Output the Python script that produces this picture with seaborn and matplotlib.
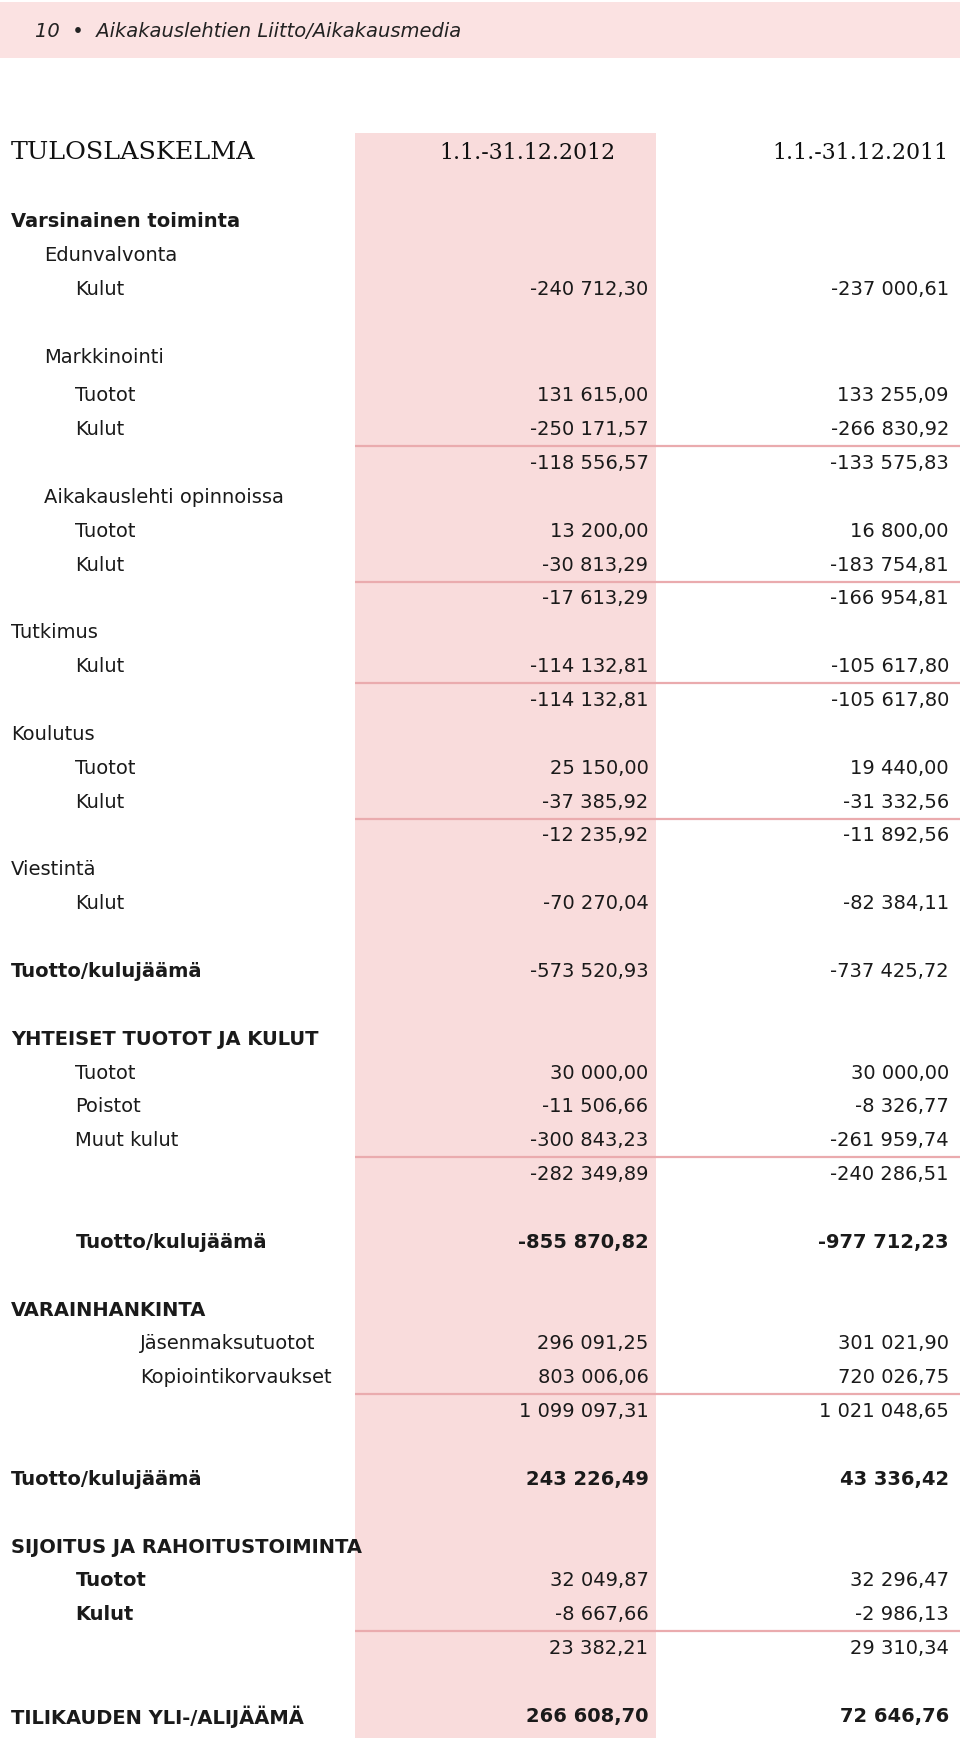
import matplotlib
matplotlib.use("Agg")
import matplotlib.pyplot as plt
import seaborn as sns

# row labels, indent level, and the two year columns
labels = ["Varsinainen toiminta", "Edunvalvonta", "Kulut",
          "Markkinointi", "Tuotot", "Kulut", "",
          "Aikakauslehti opinnoissa", "Tuotot", "Kulut", "",
          "Tutkimus", "Kulut", "",
          "Koulutus", "Tuotot", "Kulut", "",
          "Viestintä", "Kulut",
          "Tuotto/kulujäämä",
          "YHTEISET TUOTOT JA KULUT", "Tuotot", "Poistot", "Muut kulut", "",
          "Tuotto/kulujäämä",
          "VARAINHANKINTA", "Jäsenmaksutuotot", "Kopiointikorvaukset", "",
          "Tuotto/kulujäämä",
          "SIJOITUS JA RAHOITUSTOIMINTA", "Tuotot", "Kulut", "",
          "TILIKAUDEN YLI-/ALIJÄÄMÄ"]
levels = [0, 1, 2,
          1, 2, 2, 2,
          1, 2, 2, 2,
          0, 2, 2,
          0, 2, 2, 2,
          0, 2,
          0,
          0, 2, 2, 2, 2,
          2,
          0, 3, 3, 3,
          0,
          0, 2, 2, 2,
          0]
v2012 = ["", "", "-240 712,30",
         "", "131 615,00", "-250 171,57", "-118 556,57",
         "", "13 200,00", "-30 813,29", "-17 613,29",
         "", "-114 132,81", "-114 132,81",
         "", "25 150,00", "-37 385,92", "-12 235,92",
         "", "-70 270,04",
         "-573 520,93",
         "", "30 000,00", "-11 506,66", "-300 843,23", "-282 349,89",
         "-855 870,82",
         "", "296 091,25", "803 006,06", "1 099 097,31",
         "243 226,49",
         "", "32 049,87", "-8 667,66", "23 382,21",
         "266 608,70"]
v2011 = ["", "", "-237 000,61",
         "", "133 255,09", "-266 830,92", "-133 575,83",
         "", "16 800,00", "-183 754,81", "-166 954,81",
         "", "-105 617,80", "-105 617,80",
         "", "19 440,00", "-31 332,56", "-11 892,56",
         "", "-82 384,11",
         "-737 425,72",
         "", "30 000,00", "-8 326,77", "-261 959,74", "-240 286,51",
         "-977 712,23",
         "", "301 021,90", "720 026,75", "1 021 048,65",
         "43 336,42",
         "", "32 296,47", "-2 986,13", "29 310,34",
         "72 646,76"]

# layout: row slot, label weight, number weight, rule above
slots = [0, 1, 2, 4, 5, 6, 7, 8, 9, 10, 11, 12, 13, 14, 15, 16, 17, 18, 19, 20,
         22, 24, 25, 26, 27, 28, 30, 32, 33, 34, 35, 37, 39, 40, 41, 42, 44]
bold_label = {0, 20, 21, 26, 27, 31, 32, 33, 34, 36}
bold_value = {26, 31, 36}
rule_above = {6, 10, 13, 17, 25, 30, 35}

W, H = 866, 1568
PINK = "#f9dcdc"
RULE = "#eaabae"
indent_x = [10, 40, 68, 126]
col1_x, col2_x = 585, 856

sns.set_theme(style="white")
plt.rcParams["font.family"] = ["DejaVu Sans"]

fig = plt.figure(figsize=(9.6, 17.38), dpi=100)
ax = fig.add_axes([0, 0, 1, 1])
ax.set_xlim(0, W)
ax.set_ylim(H, 0)
ax.axis("off")

# header band and highlighted column
ax.axhspan(2, 52, xmin=0, xmax=1, color="#fbe2e2", lw=0)
ax.axvspan(320, 592, ymin=0, ymax=1 - 120 / H, color=PINK, lw=0)

ax.text(32, 28, "10  •  Aikakauslehtien Liitto/Aikakausmedia", fontsize=14,
        style="italic", va="center", ha="left", color="#222222")

ax.text(10, 138, "TULOSLASKELMA", fontsize=18.3, family="DejaVu Serif",
        va="center", ha="left", color="#111111")
ax.text(col1_x - 30, 138, "1.1.-31.12.2012", fontsize=15.8, family="DejaVu Serif",
        va="center", ha="right", color="#111111")
ax.text(col2_x, 138, "1.1.-31.12.2011", fontsize=15.8, family="DejaVu Serif",
        va="center", ha="right", color="#111111")

fs = 14
for i, lab in enumerate(labels):
    s = slots[i]
    y = 200 + s * 30.55 + (4.3 if s >= 5 else 0)
    lw = "bold" if i in bold_label else "normal"
    vw = "bold" if i in bold_value else "normal"
    if lab:
        ax.text(indent_x[levels[i]], y, lab, fontsize=fs, fontweight=lw,
                va="center", ha="left", color="#1a1a1a")
    if v2012[i]:
        ax.text(col1_x, y, v2012[i], fontsize=fs, fontweight=vw,
                va="center", ha="right", color="#1a1a1a")
    if v2011[i]:
        ax.text(col2_x, y, v2011[i], fontsize=fs, fontweight=vw,
                va="center", ha="right", color="#1a1a1a")
    if i in rule_above:
        ax.plot([320, W], [y - 15.5, y - 15.5], color=RULE, lw=1.6, solid_capstyle="butt")

fig.savefig("out.png", dpi=100)
